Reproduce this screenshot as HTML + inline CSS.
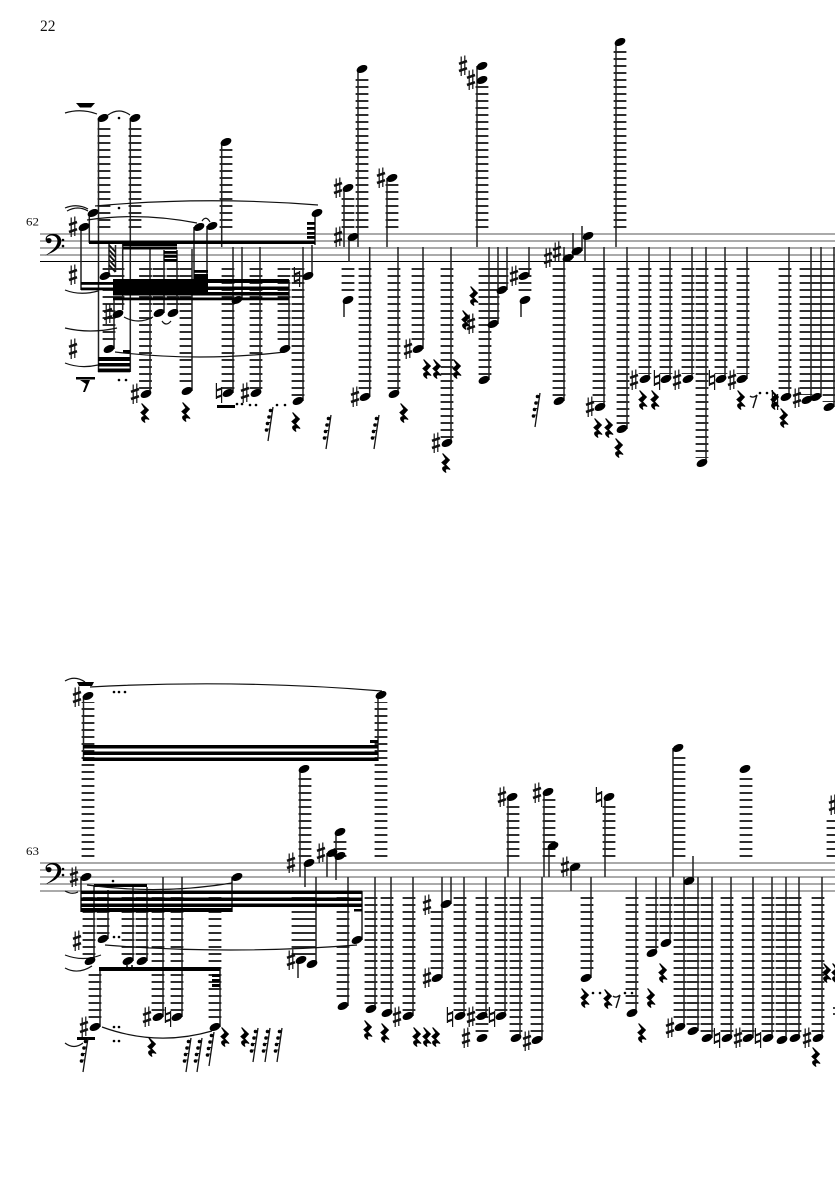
<!DOCTYPE html>
<html><head><meta charset="utf-8"><style>
html,body{margin:0;padding:0;background:#fff}
svg{display:block}
.st{stroke:#555;stroke-width:1.1;fill:none}
.l{stroke:#111;stroke-width:12.8;stroke-dasharray:1.7 5.3;fill:none}
.s{stroke:#222;stroke-width:1.5;fill:none}
.c{stroke:#111;stroke-width:1.2;fill:none}
text{font-family:"Liberation Serif",serif;fill:#111}
</style></head><body>
<svg width="835" height="1181" viewBox="0 0 835 1181" xmlns="http://www.w3.org/2000/svg">
<defs>
<ellipse id="n" rx="5.7" ry="3.6" transform="rotate(-24)" fill="#000"/>
<g id="h" stroke="#111" fill="none"><path stroke-width="1.2" d="M-1.8-9.500V10M1.800-10.500V9"/><path stroke-width="2.600" d="M-4-2.200 4-5M-4 5 4 2.200"/></g>
<g id="a" stroke="#111" fill="none"><path stroke-width="1.200" d="M-2.600-10V6M2.600-6V10"/><path stroke-width="2.200" d="M-2.600-2.600 2.600-4.400M-2.600 4.400 2.600 2.600"/></g>
<g id="r"><path transform="scale(1.35 1)" d="M-2.500-9.500 2.500-3 -0.500 1.500 3 6.500C0 5-1.500 6 0 9.500-3.500 6.500-3 3.500 0 3.500L-3 -0.500 0-4Z" fill="#000" stroke="#000" stroke-width=".9"/></g>
<g id="f" fill="#000"><path d="M0 0-5 34" stroke="#111" stroke-width="1.300"/><circle cx="-2.500" cy="3.500" r="1.800"/><circle cx="-4" cy="10" r="1.800"/><circle cx="-5.500" cy="16.500" r="1.800"/><circle cx="-6.500" cy="23" r="1.800"/><path d="M-3 2.500H0M-4 9H-1M-5.500 15.500H-2.500M-6.500 22H-3.500" stroke="#111" stroke-width="1.100"/></g>
</defs>
<text x="40" y="31" font-size="15.500">22</text>
<text x="26" y="225.500" font-size="11.500" textLength="13" lengthAdjust="spacingAndGlyphs">62</text>
<text x="26" y="855" font-size="11.500" textLength="13" lengthAdjust="spacingAndGlyphs">63</text>

<!-- staves -->
<path class="st" d="M40 234H835M40 241H835M40 248H835M40 255H835M40 863H835M40 870H835M40 877H835M40 884H835M40 891H835"/>
<path d="M40 261.500H835" stroke="#000" stroke-width="1"/>
<g id="cl"><path d="M46 241C44 236 50 233.500 54 234 60 234.500 62 239 61 243 60 249 52 253 45 255.500 51 252 57.500 247 57.500 241 57.500 236 52 234.500 49 236 47 237 46.500 238 47 238.500 50 237.500 52 239 51.500 241 51 244 47 244 46 241Z"/><circle cx="63" cy="240" r="1.300"/><circle cx="63" cy="246" r="1.300"/></g>
<use href="#cl" y="629"/>

<!-- ledger lines -->
<path class="l" d="M104 227.850V123M135 227.850V123M226 227.850V147M362 227.850V74M348 227.850V193M392 227.850V183M482 227.850V84M620 227.850V47"/>
<path class="l" d="M109 268.150V344M118 268.150V310M145.500 268.150V390M159 268.150V308M173 268.150V308M186 268.150V387M228 268.150V389M256 268.150V389M284 268.150V343M298 268.150V396M348 268.150V295M365 268.150V392M394 268.150V389M418 268.150V344M447 268.150V438M485 268.150V375M493 268.150V319M502 268.150V285M525 268.150V295M559 268.150V396M599 268.150V402M623 268.150V424M645 268.150V374M666 268.150V374M688 268.150V374M702 268.150V458M721 268.150V374M743 268.150V374M785 268.150V392M806 268.150V395M817 268.150V392M829 268.150V402"/>
<path class="l" d="M88 856.850V702M381 856.850V702M305 856.850V774M340 856.850V838M513 856.850V803M549 856.850V799M609 856.850V803M679 856.850V754M746 856.850V774M833 856.850V815"/>
<path class="l" d="M89 897.150V956M103 897.150V934M128 897.150V956M142 897.150V956M95 974.150V1022M158 897.150V1012M177 897.150V1012M215 897.150V1022M298 897.150V955M310 897.150V959M343 897.150V1001M371 897.150V1004M387 897.150V1008M409 897.150V1011M437 911.150V973M460 897.150V1011M482 897.150V1033M501 897.150V1011M516 897.150V1033M537 897.150V1035M587 897.150V973M632 897.150V1008M652 897.150V948M666 897.150V938M680 897.150V1022M693 897.150V1026M707 897.150V1033M727 897.150V1033M748 897.150V1033M768 897.150V1033M782 897.150V1033M795 897.150V1033M818 897.150V1033"/>

<!-- stems -->
<path class="s" d="M98.500 118V372M130.300 118V372M221.700 142V247M89.300 213V243M81 227V290M194 227V280M207 226V280M315 213V245M122.700 243V310M109 244V276M115.500 245V272M150 249V394M164 250V313M177 250V313M192 249V391M233 247V393M242 247V300M260 247V393M289 280V349M303 247V401M312 245V276M114 300V349M344 188V247M349 237V262M344 300V317M358 69V247M369.700 247V397M387 178V247M398 247V394M423 247V349M451 247V443M477 66V247M489 247V380M498 247V324M507 247V290M529 247V276M521 300V317M573 233V258M582 226V251M585 238V262M564 247V401M616 42V247M604 247V407M627 247V429M649 247V379M670 247V379M692 247V379M706 247V463M725 247V379M747 247V379M789 247V397M811 247V400M821 247V397M834 247V407"/>
<path class="s" d="M83.500 696V761M378 693V761M81 877V912M232 877V912M94 885V961M108 890V939M133 887V961M147 887V961M163 877V1017M182 877V1017M220 967V1027M100 967V1027M362 891V940M348 877V1006M300 769V877M305 863V887M327 853V877M336 832V880M316 877V964M298 960V978M375 877V1009M391 877V1013M413 877V1016M451 877V904M442 877V978M464 877V1016M486 877V1016M505 877V1016M520 877V1038M542 877V1040M508 797V877M544 792V877M549 846V877M571 867V891M591 877V978M605 797V877M636 877V1013M656 877V953M670 877V943M673 748V877M693 856V881M684 877V1027M698 877V1031M712 877V1038M731 877V1038M753 877V1038M772 877V1038M786 877V1040M799 877V1038M822 877V1038"/>

<!-- beams, system 1 -->
<g fill="#000">
<rect x="89" y="240.500" width="226" height="3.500"/>
<rect x="123" y="243" width="54" height="3"/><rect x="123" y="246.500" width="54" height="3"/>
<rect x="164" y="251" width="13" height="2.800"/><rect x="164" y="255" width="13" height="2.800"/><rect x="164" y="259" width="13" height="2.800"/>
<rect x="307" y="222" width="8" height="2.800"/><rect x="307" y="227" width="8" height="2.800"/><rect x="307" y="232" width="8" height="2.800"/><rect x="307" y="236" width="8" height="2.800"/>
<rect x="194" y="270" width="14" height="2.800"/><rect x="194" y="274" width="14" height="6"/>
<rect x="113" y="279" width="95" height="13"/>
<rect x="113" y="279" width="176" height="4"/><rect x="113" y="286.500" width="176" height="3.500"/><rect x="113" y="292" width="176" height="3.500"/><rect x="113" y="297.500" width="176" height="2.800"/>
<rect x="81" y="282" width="32" height="2.800"/><rect x="81" y="287.500" width="32" height="2.800"/>
<rect x="98" y="357" width="32" height="4"/><rect x="98" y="363" width="32" height="3.500"/><rect x="98" y="368.500" width="32" height="3.800"/>
<rect x="123" y="350" width="7" height="3.500"/>
<path d="M76 103H95L91 107.500H80Z"/><path d="M76 377H95V379.500H76Z"/><path d="M80 380H90L85 392 83 392 86 384Z"/>
<rect x="217" y="405" width="18" height="3"/>
</g>
<path d="M109 245 115.500 252M109 250 115.500 257M109 255 115.500 262M109 260 115.500 267M109 265 115.500 272" stroke="#111" stroke-width="1.800"/>

<!-- beams, system 2 -->
<g fill="#000">
<rect x="83" y="745" width="295" height="3.500"/><rect x="83" y="751.500" width="295" height="3.500"/><rect x="83" y="757.500" width="295" height="3.500"/>
<rect x="370" y="740" width="8" height="3"/>
<rect x="94" y="884" width="53" height="3"/>
<rect x="81" y="890.500" width="281" height="3.500"/><rect x="81" y="897.500" width="281" height="3.500"/><rect x="81" y="903.500" width="281" height="3.500"/><rect x="81" y="908" width="151" height="4"/>
<rect x="354" y="909" width="8" height="2.500"/>
<rect x="99" y="967" width="121" height="4"/>
<rect x="212" y="974" width="8" height="3"/><rect x="212" y="979" width="8" height="3"/><rect x="212" y="984" width="8" height="3"/>
<path d="M77 682H94L92 686H79Z"/><rect x="77" y="1037" width="18" height="3"/>
</g>

<!-- slurs and ties -->
<path class="c" d="M65 113Q81 108 97 114M108 115Q119 107 130 115M95 206Q205 196 318 205M65 208Q77 203 88 209M67 211Q78 205 88 211M87 220Q140 212 197 223M202 221Q206 215 210 222M65 290Q80 296 98 291M65 328Q90 334 117 328M65 363Q80 369 98 365M115 352Q200 362 285 352M124 317Q138 325 153 317M162 321Q166 327 171 321"/>
<path class="c" d="M65 681Q75 675 85 682M90 687Q235 679 382 691M65 891Q72 895 78 892M87 885Q160 895 232 883M105 945Q230 955 357 945M65 955Q83 962 101 955M65 968Q78 975 92 966M102 1027Q157 1047 212 1031M65 1043Q74 1050 83 1043"/>

<!-- notes -->
<use href="#n" x="103" y="118"/><use href="#n" x="135" y="118"/><use href="#n" x="226" y="142"/><use href="#n" x="93" y="213"/><use href="#n" x="84" y="227"/><use href="#n" x="199" y="227"/><use href="#n" x="212" y="226"/><use href="#n" x="317" y="213"/><use href="#n" x="105" y="276"/><use href="#n" x="118" y="314"/><use href="#n" x="146" y="394"/><use href="#n" x="159" y="313"/><use href="#n" x="173" y="313"/><use href="#n" x="187" y="391"/><use href="#n" x="228" y="393"/><use href="#n" x="237" y="300"/><use href="#n" x="256" y="393"/><use href="#n" x="285" y="349"/><use href="#n" x="308" y="276"/><use href="#n" x="298" y="401"/><use href="#n" x="109" y="349"/>
<use href="#n" x="362" y="69"/><use href="#n" x="348" y="188"/><use href="#n" x="353" y="237"/><use href="#n" x="348" y="300"/><use href="#n" x="365" y="397"/><use href="#n" x="392" y="178"/><use href="#n" x="394" y="394"/><use href="#n" x="418" y="349"/><use href="#n" x="447" y="443"/><use href="#n" x="482" y="66"/><use href="#n" x="482" y="80"/><use href="#n" x="484" y="380"/><use href="#n" x="493" y="324"/><use href="#n" x="502" y="290"/><use href="#n" x="524" y="276"/><use href="#n" x="525" y="300"/><use href="#n" x="568" y="258"/><use href="#n" x="577" y="251"/><use href="#n" x="588" y="236"/><use href="#n" x="559" y="401"/>
<use href="#n" x="620" y="42"/><use href="#n" x="600" y="407"/><use href="#n" x="622" y="429"/><use href="#n" x="645" y="379"/><use href="#n" x="666" y="379"/><use href="#n" x="688" y="379"/><use href="#n" x="702" y="463"/><use href="#n" x="721" y="379"/><use href="#n" x="742" y="379"/><use href="#n" x="786" y="397"/><use href="#n" x="807" y="400"/><use href="#n" x="816" y="397"/><use href="#n" x="829" y="407"/>
<use href="#n" x="88" y="696"/><use href="#n" x="381" y="695"/><use href="#n" x="86" y="877"/><use href="#n" x="237" y="877"/><use href="#n" x="90" y="961"/><use href="#n" x="103" y="939"/><use href="#n" x="128" y="961"/><use href="#n" x="142" y="961"/><use href="#n" x="158" y="1017"/><use href="#n" x="177" y="1017"/><use href="#n" x="215" y="1027"/><use href="#n" x="95" y="1027"/><use href="#n" x="357" y="940"/><use href="#n" x="343" y="1006"/>
<use href="#n" x="304" y="769"/><use href="#n" x="309" y="863"/><use href="#n" x="332" y="853"/><use href="#n" x="340" y="856"/><use href="#n" x="340" y="832"/><use href="#n" x="312" y="964"/><use href="#n" x="301" y="960"/><use href="#n" x="371" y="1009"/><use href="#n" x="387" y="1013"/><use href="#n" x="408" y="1016"/><use href="#n" x="446" y="904"/><use href="#n" x="437" y="978"/><use href="#n" x="460" y="1016"/><use href="#n" x="482" y="1016"/><use href="#n" x="482" y="1038"/><use href="#n" x="501" y="1016"/><use href="#n" x="516" y="1038"/><use href="#n" x="537" y="1040"/><use href="#n" x="512" y="797"/><use href="#n" x="548" y="792"/><use href="#n" x="553" y="846"/>
<use href="#n" x="575" y="867"/><use href="#n" x="586" y="978"/><use href="#n" x="609" y="797"/><use href="#n" x="632" y="1013"/><use href="#n" x="652" y="953"/><use href="#n" x="666" y="943"/><use href="#n" x="678" y="748"/><use href="#n" x="689" y="881"/><use href="#n" x="680" y="1027"/><use href="#n" x="693" y="1031"/><use href="#n" x="707" y="1038"/><use href="#n" x="727" y="1038"/><use href="#n" x="748" y="1038"/><use href="#n" x="768" y="1038"/><use href="#n" x="782" y="1040"/><use href="#n" x="795" y="1038"/><use href="#n" x="818" y="1038"/><use href="#n" x="745" y="769"/>

<!-- sharps -->
<use href="#h" x="73" y="227"/><use href="#h" x="73" y="275"/><use href="#h" x="73" y="349"/><use href="#h" x="108" y="314"/><use href="#h" x="135" y="394"/><use href="#h" x="245" y="393"/><use href="#h" x="338" y="188"/><use href="#h" x="338" y="237"/><use href="#h" x="355" y="397"/><use href="#h" x="381" y="178"/><use href="#h" x="408" y="349"/><use href="#h" x="436" y="443"/><use href="#h" x="463" y="66"/><use href="#h" x="471" y="80"/><use href="#h" x="471" y="324"/><use href="#h" x="514" y="276"/><use href="#h" x="548" y="258"/><use href="#h" x="557" y="252"/><use href="#h" x="590" y="407"/><use href="#h" x="634" y="380"/><use href="#h" x="677" y="380"/><use href="#h" x="732" y="380"/><use href="#h" x="797" y="398"/>
<use href="#h" x="77" y="697"/><use href="#h" x="74" y="877"/><use href="#h" x="77" y="941"/><use href="#h" x="147" y="1017"/><use href="#h" x="84" y="1027"/><use href="#h" x="291" y="863"/><use href="#h" x="321" y="853"/><use href="#h" x="291" y="960"/><use href="#h" x="397" y="1017"/><use href="#h" x="427" y="905"/><use href="#h" x="427" y="978"/><use href="#h" x="471" y="1017"/><use href="#h" x="466" y="1038"/><use href="#h" x="527" y="1041"/><use href="#h" x="502" y="797"/><use href="#h" x="537" y="793"/><use href="#h" x="565" y="867"/><use href="#h" x="670" y="1028"/><use href="#h" x="738" y="1038"/><use href="#h" x="807" y="1038"/><use href="#h" x="833" y="805"/>

<!-- naturals -->
<use href="#a" x="219" y="393"/><use href="#a" x="297" y="277"/><use href="#a" x="657" y="380"/><use href="#a" x="712" y="380"/><use href="#a" x="775" y="400"/><use href="#a" x="168" y="1017"/><use href="#a" x="450" y="1017"/><use href="#a" x="492" y="1017"/><use href="#a" x="599" y="797"/><use href="#a" x="717" y="1038"/><use href="#a" x="758" y="1038"/>

<!-- rests -->
<use href="#r" x="145" y="413"/><use href="#r" x="186" y="412"/><use href="#r" x="296" y="422"/><use href="#r" x="404" y="413"/><use href="#r" x="427" y="369"/><use href="#r" x="437" y="369"/><use href="#r" x="457" y="369"/><use href="#r" x="446" y="463"/><use href="#r" x="474" y="296"/><use href="#r" x="466" y="320"/><use href="#r" x="598" y="428"/><use href="#r" x="609" y="428"/><use href="#r" x="619" y="448"/><use href="#r" x="643" y="400"/><use href="#r" x="655" y="400"/><use href="#r" x="741" y="400"/><use href="#r" x="775" y="400"/><use href="#r" x="784" y="418"/>
<use href="#r" x="152" y="1047"/><use href="#r" x="225" y="1037"/><use href="#r" x="245" y="1037"/><use href="#r" x="368" y="1030"/><use href="#r" x="385" y="1033"/><use href="#r" x="417" y="1037"/><use href="#r" x="427" y="1037"/><use href="#r" x="436" y="1037"/><use href="#r" x="585" y="998"/><use href="#r" x="608" y="999"/><use href="#r" x="651" y="998"/><use href="#r" x="642" y="1033"/><use href="#r" x="663" y="973"/><use href="#r" x="816" y="1057"/><use href="#r" x="827" y="973"/><use href="#r" x="836" y="973"/>

<!-- slanted multi-flag rests -->
<use href="#f" x="273" y="407"/><use href="#f" x="331" y="415"/><use href="#f" x="379" y="415"/><use href="#f" x="540" y="393"/>
<use href="#f" x="88" y="1038"/><use href="#f" x="191" y="1038"/><use href="#f" x="202" y="1038"/><use href="#f" x="214" y="1032"/><use href="#f" x="258" y="1028"/><use href="#f" x="270" y="1028"/><use href="#f" x="282" y="1028"/>

<!-- eighth rests -->
<path d="M750 396C752 398 755 397 757 395L753 408" stroke="#111" stroke-width="1.400" fill="none"/>
<path d="M613 996C615 998 618 997 620 995L616 1008" stroke="#111" stroke-width="1.400" fill="none"/>

<!-- dots -->
<g fill="#000">
<circle cx="119" cy="118" r="1.300"/><circle cx="119" cy="208" r="1.300"/><circle cx="119" cy="380" r="1.300"/><circle cx="126" cy="380" r="1.300"/>
<circle cx="237" cy="404" r="1.300"/><circle cx="242" cy="404" r="1.300"/><circle cx="250" cy="405" r="1.300"/><circle cx="256" cy="405" r="1.300"/><circle cx="277" cy="405" r="1.300"/><circle cx="285" cy="405" r="1.300"/>
<circle cx="760" cy="393" r="1.300"/><circle cx="767" cy="393" r="1.300"/>
<circle cx="114" cy="692" r="1.300"/><circle cx="119" cy="692" r="1.300"/><circle cx="125" cy="692" r="1.300"/><circle cx="113" cy="881" r="1.300"/>
<circle cx="114" cy="937" r="1.300"/><circle cx="119" cy="937" r="1.300"/><circle cx="127" cy="966" r="1"/><circle cx="132" cy="966" r="1"/>
<circle cx="114" cy="1027" r="1.300"/><circle cx="119" cy="1027" r="1.300"/><circle cx="114" cy="1041" r="1.300"/><circle cx="119" cy="1041" r="1.300"/>
<circle cx="593" cy="993" r="1.300"/><circle cx="600" cy="993" r="1.300"/><circle cx="625" cy="993" r="1.300"/><circle cx="632" cy="993" r="1.300"/><circle cx="834" cy="1008" r="1"/><circle cx="834" cy="1014" r="1"/>
</g>
</svg>
</body></html>
